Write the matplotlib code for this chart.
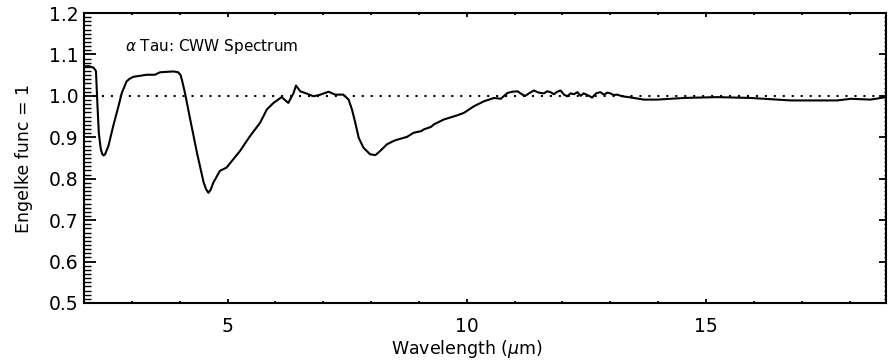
import matplotlib
matplotlib.use('Agg')
import matplotlib.pyplot as plt
from matplotlib.ticker import MultipleLocator, FormatStrFormatter

# Espectro de alpha Tau
wavelength = [2.00, 2.10, 2.20, 2.25, 2.28, 2.31, 2.35, 2.38, 2.41, 2.44,
              2.51, 2.61, 2.72, 2.79, 2.89, 2.95, 3.03, 3.31, 3.48, 3.59,
              3.87, 3.97, 4.02, 4.06, 4.11, 4.22, 4.36, 4.50, 4.55, 4.60,
              4.65, 4.70, 4.84, 4.98, 5.12, 5.26, 5.47, 5.68, 5.82, 5.96,
              6.13, 6.27, 6.38, 6.43, 6.52, 6.62, 6.80, 6.94, 7.11, 7.25,
              7.42, 7.53, 7.60, 7.67, 7.74, 7.84, 7.98, 8.09, 8.19, 8.33,
              8.45, 8.51, 8.75, 8.89, 9.05, 9.10, 9.25, 9.31, 9.52, 9.80,
              9.94, 10.15, 10.36, 10.57, 10.71, 10.78, 10.85, 10.95, 11.06, 11.15,
              11.22, 11.30, 11.40, 11.50, 11.61, 11.68, 11.75, 11.82, 11.89, 11.96,
              12.03, 12.10, 12.17, 12.24, 12.31, 12.38, 12.44, 12.52, 12.62, 12.70,
              12.79, 12.87, 12.94, 13.00, 13.07, 13.14, 13.25, 13.38, 13.70, 13.98,
              14.54, 15.23, 15.93, 16.77, 17.33, 17.74, 18.03, 18.44, 18.76]
flux = [1.071, 1.072, 1.068, 1.060, 0.980, 0.910, 0.872, 0.860, 0.856, 0.859,
        0.879, 0.927, 0.975, 1.007, 1.035, 1.041, 1.046, 1.051, 1.051, 1.057,
        1.059, 1.057, 1.050, 1.032, 1.007, 0.943, 0.863, 0.791, 0.775, 0.766,
        0.774, 0.790, 0.819, 0.827, 0.847, 0.867, 0.903, 0.935, 0.967, 0.983,
        0.997, 0.983, 1.007, 1.025, 1.011, 1.007, 0.999, 1.003, 1.010, 1.003,
        1.003, 0.991, 0.967, 0.935, 0.899, 0.875, 0.859, 0.857, 0.867, 0.883,
        0.890, 0.893, 0.901, 0.911, 0.915, 0.919, 0.925, 0.931, 0.943, 0.953,
        0.959, 0.975, 0.987, 0.995, 0.993, 1.000, 1.007, 1.010, 1.011, 1.004,
        1.000, 1.006, 1.013, 1.008, 1.006, 1.011, 1.009, 1.004, 1.010, 1.013,
        1.003, 0.999, 1.006, 1.004, 1.009, 1.000, 1.006, 1.002, 0.996, 1.006,
        1.009, 1.003, 1.008, 1.006, 1.002, 1.003, 0.999, 0.997, 0.991, 0.991,
        0.995, 0.997, 0.995, 0.989, 0.989, 0.989, 0.993, 0.991, 0.997]

fig = plt.figure(figsize=(8.88, 3.62), dpi=100)
ax = fig.add_axes([0.0946, 0.163, 0.9031, 0.801])

ax.plot(wavelength, flux, color='black', lw=1.5, solid_joinstyle='round')
ax.axhline(1.0, color='black', lw=1.5, linestyle=(0, (1, 3.3)))

ax.set_xlim(2.0, 18.76)
ax.set_ylim(0.5, 1.2)

ax.xaxis.set_major_locator(MultipleLocator(5))
ax.xaxis.set_minor_locator(MultipleLocator(1))
ax.yaxis.set_major_locator(MultipleLocator(0.1))
ax.yaxis.set_minor_locator(MultipleLocator(0.01))
ax.yaxis.set_major_formatter(FormatStrFormatter('%.1f'))

ax.tick_params(axis='x', which='both', direction='in', top=True, labelsize=13.5, pad=10)
ax.tick_params(axis='x', which='major', length=3, width=1.3)
ax.tick_params(axis='x', which='minor', length=1.5, width=1.3)
ax.tick_params(axis='y', which='both', direction='in', labelsize=13.5, pad=4)
ax.tick_params(axis='y', which='major', length=8.5, width=1.3)
ax.tick_params(axis='y', which='minor', length=5, width=1)

# eixo direito com marcas mais curtas
sec = ax.secondary_yaxis('right')
sec.yaxis.set_major_locator(MultipleLocator(0.1))
sec.yaxis.set_minor_locator(MultipleLocator(0.01))
sec.tick_params(axis='y', which='both', direction='in', labelright=False)
sec.tick_params(axis='y', which='major', length=5, width=1.3)
sec.tick_params(axis='y', which='minor', length=1.5, width=1)
sec.spines['right'].set_visible(False)

for s in ax.spines.values():
    s.set_linewidth(1.5)

ax.text(0.051, 0.883, r'$\alpha$ Tau: CWW Spectrum', transform=ax.transAxes,
        fontsize=11, va='center', ha='left')
ax.set_xlabel(r'Wavelength ($\mu$m)', fontsize=12.5)
ax.xaxis.set_label_coords(0.477, -0.12)
ax.set_ylabel('Engelke func = 1', fontsize=12.5)
ax.yaxis.set_label_coords(-0.064, 0.5)

fig.savefig('out.png', dpi=100)
